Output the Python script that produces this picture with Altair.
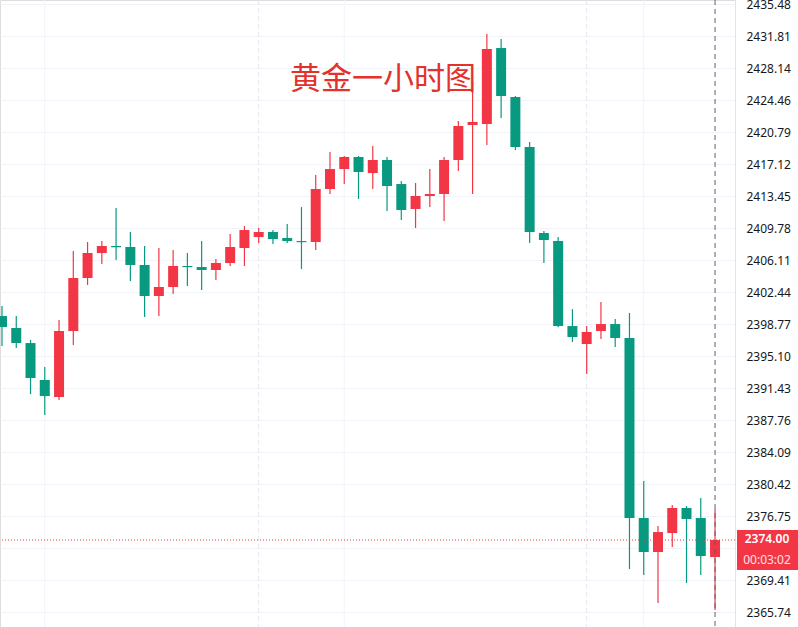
import altair as alt
import pandas as pd

# Hourly gold candles (oldest first)
opens = [2399.69, 2398.32, 2396.59, 2392.35, 2390.40, 2397.97, 2404.05, 2406.92, 2407.72, 2407.61,
         2405.54, 2401.99, 2403.02, 2405.43, 2405.31, 2404.97, 2405.77, 2407.49, 2408.75, 2409.33,
         2408.64, 2408.29, 2408.18, 2414.26, 2416.55, 2417.93, 2416.09, 2417.59, 2414.83, 2411.97,
         2413.46, 2413.69, 2417.59, 2421.60, 2421.72, 2430.43, 2424.81, 2419.08, 2409.21, 2408.29,
         2398.54, 2396.48, 2397.97, 2398.77, 2397.17, 2376.52, 2372.62, 2374.80, 2377.67, 2376.52,
         2372.05]
highs = [2400.84, 2399.69, 2396.94, 2393.84, 2399.23, 2407.15, 2408.18, 2408.29, 2412.08, 2409.33,
         2407.72, 2407.49, 2407.26, 2406.92, 2408.29, 2406.23, 2409.10, 2410.02, 2409.79, 2409.56,
         2410.24, 2412.19, 2415.87, 2418.50, 2418.05, 2418.05, 2419.19, 2417.93, 2415.18, 2414.95,
         2416.55, 2417.93, 2422.06, 2426.65, 2432.04, 2431.47, 2424.93, 2419.65, 2409.44, 2408.75,
         2400.49, 2398.54, 2401.30, 2399.35, 2400.04, 2380.76, 2375.60, 2378.01, 2377.90, 2378.81,
         2377.55]
lows = [2396.25, 2396.02, 2390.74, 2388.34, 2390.06, 2396.37, 2403.25, 2405.66, 2406.12, 2403.71,
        2399.58, 2399.69, 2402.22, 2403.13, 2402.67, 2403.82, 2405.43, 2405.43, 2408.06, 2407.95,
        2408.06, 2405.08, 2407.26, 2413.69, 2414.83, 2413.11, 2414.26, 2411.74, 2410.70, 2409.79,
        2412.19, 2410.59, 2416.32, 2413.69, 2419.31, 2422.40, 2418.73, 2408.06, 2405.77, 2398.40,
        2396.71, 2393.04, 2397.05, 2396.14, 2370.67, 2369.98, 2366.77, 2373.19, 2369.06, 2369.98,
        2365.97]
closes = [2398.43, 2396.59, 2392.58, 2390.51, 2397.97, 2404.05, 2406.92, 2407.72, 2407.58, 2405.54,
          2401.99, 2403.02, 2405.43, 2405.30, 2404.97, 2405.77, 2407.61, 2409.56, 2409.33, 2408.52,
          2408.29, 2408.16, 2414.26, 2416.55, 2417.93, 2416.21, 2417.59, 2414.60, 2411.85, 2413.46,
          2413.69, 2417.59, 2421.49, 2421.95, 2430.32, 2424.93, 2419.08, 2409.33, 2408.41, 2398.54,
          2397.28, 2397.86, 2398.77, 2397.17, 2376.52, 2372.62, 2374.91, 2377.67, 2376.41, 2372.16,
          2374.00]

# Price scale levels on the right (the one under the last-price tag carries no label)
price_ticks = [2365.74, 2369.41, 2373.08, 2376.75, 2380.42, 2384.09, 2387.76, 2391.43, 2395.10,
               2398.77, 2402.44, 2406.11, 2409.78, 2413.45, 2417.12, 2420.79, 2424.46, 2428.14,
               2431.81, 2435.48]
covered_tick = 2373.08

# Time-grid positions (candle index)
solid_grid = [4, 25, 46]
dashed_grid = [19, 42]

title_text = "黄金一小时图"
last_price = closes[-1]
countdown = "00:03:02"

UP = "#F23645"
DOWN = "#089981"

df = pd.DataFrame({
    "i": list(range(1, len(opens) + 1)),
    "open": opens, "high": highs, "low": lows, "close": closes,
})
df["dir"] = ["up" if c >= o else "down" for o, c in zip(opens, closes)]

x_scale = alt.Scale(domain=[0.86, 52.40], nice=False, zero=False, padding=0)
y_scale = alt.Scale(domain=[2364.02, 2435.94], nice=False, zero=False, padding=0)
color = alt.Color("dir:N", scale=alt.Scale(domain=["up", "down"], range=[UP, DOWN]), legend=None)

# One price axis shared by every layer so the merged axis keeps these settings
y_axis = alt.Axis(orient="right", values=price_ticks, title=None,
                  labelExpr=f"abs(datum.value - {covered_tick}) < 0.005 ? '' : format(datum.value, '.2f')",
                  ticks=False, labelPadding=11, labelFontSize=12,
                  labelFont="Noto Sans", labelColor="#131722", labelFlush=False,
                  labelOverlap=False, labelBound=False,
                  domainColor="#E0E3EB", gridColor="#F0F3FA", grid=True, zindex=0)


def Y(field):
    return alt.Y(field, scale=y_scale, axis=y_axis)


X = alt.X("i:Q", scale=x_scale, axis=None)

base = alt.Chart(df)

grid_solid = alt.Chart(pd.DataFrame({"i": solid_grid})).mark_rule(
    color="#F0F3FA", strokeWidth=1
).encode(x=X)

grid_dashed = alt.Chart(pd.DataFrame({"i": dashed_grid})).mark_rule(
    color="#E4E7EE", strokeWidth=1, strokeDash=[5, 3]
).encode(x=X)

wicks = base.mark_rule(strokeWidth=1.2).encode(
    x=X, y=Y("low:Q"), y2="high:Q", color=color,
)

bodies = base.mark_bar(width=10).encode(
    x=X, y=Y("open:Q"), y2="close:Q", color=color,
)

price_df = pd.DataFrame({"p": [last_price], "i": [len(opens)],
                         "label": [f"{last_price:.2f}"], "timer": [countdown]})

price_line = alt.Chart(price_df).mark_rule(
    color=UP, strokeWidth=1, strokeDash=[1, 2]
).encode(y=Y("p:Q"))

crosshair = alt.Chart(price_df).mark_rule(
    color="#5D606B", strokeWidth=1, strokeDash=[5, 4]
).encode(x=X)

price_box = alt.Chart(price_df).mark_rect(
    color=UP, height=40, yOffset=10, clip=False
).encode(y=Y("p:Q"), x=alt.value(737), x2=alt.value(798))

price_text = alt.Chart(price_df).mark_text(
    color="white", fontSize=12, font="Noto Sans", fontWeight=600, align="center",
    baseline="middle", yOffset=-1
).encode(y=Y("p:Q"), x=alt.value(767), text="label:N")

timer_text = alt.Chart(price_df).mark_text(
    color="#FFE3E6", fontSize=12, font="Noto Sans", align="center", baseline="middle", yOffset=20
).encode(y=Y("p:Q"), x=alt.value(767), text="timer:N")

title = alt.Chart(pd.DataFrame({"t": [title_text]})).mark_text(
    color="#E3322B", fontSize=31, font="Noto Sans CJK SC", align="center", baseline="middle"
).encode(x=alt.value(383), y=alt.value(80), text="t:N")

chart = alt.layer(
    grid_solid, grid_dashed, wicks, bodies, price_line, crosshair,
    price_box, price_text, timer_text, title
).properties(
    width=735, height=627,
    autosize=alt.AutoSizeParams(type="none"),
    padding={"left": 0, "top": 0, "right": 63, "bottom": 0},
).configure_view(stroke=None).configure_axis(labelOverlap=False).configure(background="white")

chart.save("out.html", embed_options={"renderer": "svg", "actions": False})
